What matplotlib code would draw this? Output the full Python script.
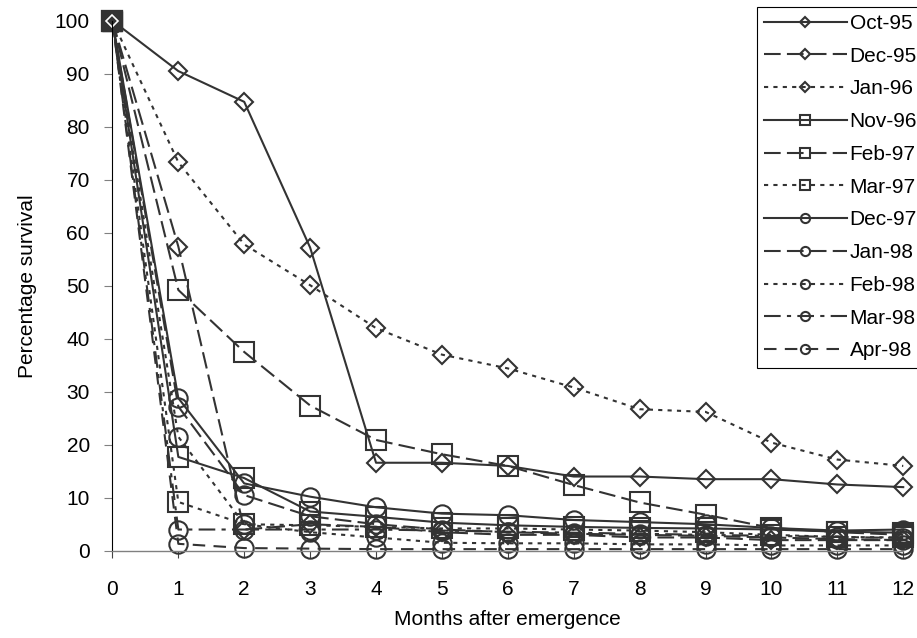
import matplotlib
matplotlib.use('Agg')
import matplotlib.pyplot as plt

plt.rcParams['font.family'] = ['Liberation Sans', 'DejaVu Sans']

months = list(range(13))

oct95 = [100, 90.5, 84.7, 57.2, 16.6, 16.6, 16.0, 14.0, 14.0, 13.5, 13.5, 12.5, 12.0]
dec95 = [100, 57.4, 4.0, 5.0, 4.5, 3.5, 3.0, 3.0, 2.5, 2.5, 2.0, 2.0, 2.0]
jan96 = [100, 73.3, 57.8, 50.1, 42.0, 37.0, 34.4, 30.8, 26.7, 26.2, 20.4, 17.2, 16.0]
nov96 = [100, 17.7, 13.7, 7.4, 6.4, 5.3, 4.8, 4.5, 4.3, 4.2, 4.0, 3.6, 3.4]
feb97 = [100, 49.2, 37.5, 27.4, 20.9, 18.2, 16.0, 12.4, 9.1, 6.8, 4.3, 3.5, 3.0]
mar97 = [100, 9.2, 5.0, 4.8, 4.5, 4.2, 4.2, 4.0, 3.8, 3.5, 3.0, 2.6, 2.5]
dec97 = [100, 28.8, 12.7, 10.2, 8.2, 7.0, 6.7, 5.8, 5.4, 5.0, 4.3, 3.8, 4.0]
jan98 = [100, 27.2, 10.5, 6.5, 5.0, 4.0, 3.5, 3.2, 3.0, 2.8, 2.5, 2.2, 2.0]
feb98 = [100, 21.5, 5.0, 3.5, 2.5, 1.5, 1.4, 1.4, 1.2, 1.2, 1.0, 1.0, 1.0]
mar98 = [100, 4.0, 4.0, 4.0, 4.0, 3.8, 3.6, 3.4, 3.2, 3.0, 2.8, 2.6, 2.4]
apr98 = [100, 1.3, 0.5, 0.4, 0.3, 0.3, 0.3, 0.3, 0.3, 0.3, 0.3, 0.3, 0.3]

labels = ['Oct-95', 'Dec-95', 'Jan-96', 'Nov-96', 'Feb-97', 'Mar-97',
          'Dec-97', 'Jan-98', 'Feb-98', 'Mar-98', 'Apr-98']
series = [oct95, dec95, jan96, nov96, feb97, mar97,
          dec97, jan98, feb98, mar98, apr98]

# line styles: solid, long dash, short dash, dash-dot, dash
solid = '-'
longdash = (0, (8, 3))
shortdash = (0, (2, 2.5))
dashdot = (0, (8, 3, 2, 3))
dash = (0, (6, 4))
styles = [solid, longdash, shortdash, solid, longdash, shortdash,
          solid, longdash, shortdash, dashdot, dash]
markers = ['D', 'D', 'D', 's', 's', 's', 'o', 'o', 'o', 'o', 'o']
sizes = {'D': 9.3, 's': 13.7, 'o': 13.2}

ink = '#333333'

fig = plt.figure(figsize=(9.17, 6.38), dpi=100)
ax = fig.add_axes([0.1226, 0.1368, 0.8624, 0.8307])

for vals, lab, ls, mk in zip(series, labels, styles, markers):
    ax.plot(months, vals, color=ink, lw=1.5, linestyle=ls, marker=mk,
            markersize=sizes[mk], markerfacecolor='none',
            markeredgecolor=ink, markeredgewidth=1.5, label=lab, clip_on=False)

# overlapping start point
ax.plot(months[0], oct95[0], marker='s', markersize=14, color=ink, clip_on=False)
ax.plot(months[0], oct95[0], marker='D', markersize=6, markerfacecolor='none',
        markeredgecolor='white', markeredgewidth=1.2, clip_on=False)

ax.set_xlim(0, 12)
ax.set_ylim(0, 100)
ax.set_xticks(months)
ax.set_yticks(range(0, 101, 10))
ax.tick_params(axis='y', direction='out', length=5.8, width=0.8, color='#808080',
               labelsize=15, pad=10.5)
ax.tick_params(axis='x', direction='out', length=5, width=0.8, color='#444444',
               labelsize=15, pad=16)

for s in ['top', 'right']:
    ax.spines[s].set_visible(False)
ax.spines['left'].set_color('black')
ax.spines['left'].set_linewidth(0.8)
ax.spines['bottom'].set_color('#808080')
ax.spines['bottom'].set_linewidth(1.0)

ax.set_xlabel('Months after emergence', fontsize=15, labelpad=8)
ax.set_ylabel('Percentage survival', fontsize=15, labelpad=13)

leg = ax.legend(loc='upper left', bbox_to_anchor=(0.8255, 0.9895),
                bbox_transform=fig.transFigure, borderaxespad=0,
                fontsize=15, markerscale=0.5, numpoints=1,
                handlelength=3.95, handletextpad=0.15, labelspacing=0.66,
                borderpad=0.35, fancybox=False, framealpha=1)
leg.get_frame().set_edgecolor('black')
leg.get_frame().set_linewidth(0.8)

fig.savefig('out.png', dpi=100)
